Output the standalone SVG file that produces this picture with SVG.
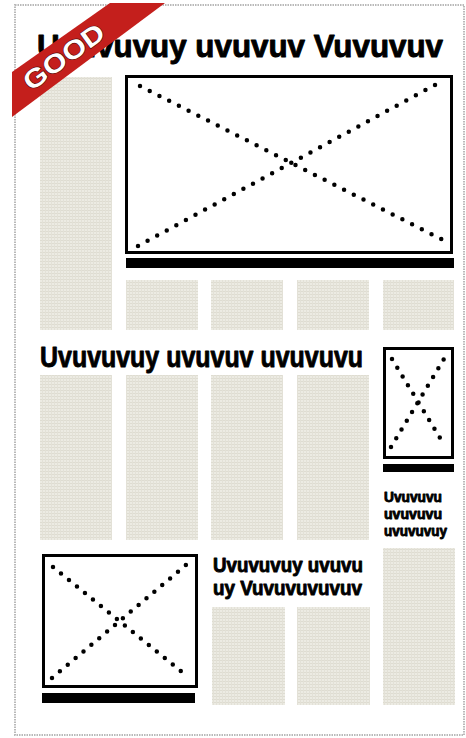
<svg xmlns="http://www.w3.org/2000/svg" width="466" height="738" viewBox="0 0 466 738">
<defs>
<style>
.blk{fill:url(#tex)}
.frame{fill:#fff;stroke:#000;stroke-width:3}
.bar{fill:#000}
.dots{fill:none;stroke:#000;stroke-width:4.5;stroke-linecap:round}
.hl{font-family:"Liberation Sans",Arial,sans-serif;font-weight:bold;fill:#000;stroke:#000;stroke-width:0.9;stroke-linejoin:round}
</style>
<pattern id="tex" width="3" height="3" patternUnits="userSpaceOnUse">
<rect width="3" height="3" fill="#ecebe3"/>
<rect width="3" height="1" fill="#dedcd1"/>
<rect width="1" height="3" fill="#e3e1d7"/>
</pattern>
</defs>
<rect width="466" height="738" fill="#fff"/>
<g id="page">
<rect x="15" y="5" width="449" height="730" fill="none" stroke="#b9b9b9" stroke-width="2" stroke-dasharray="1.5 1"/>
</g>
<g id="headline1">
<text class="hl" x="37" y="57" font-size="31" textLength="406" lengthAdjust="spacingAndGlyphs">Uvuvuvuy uvuvuv Vuvuvuv</text>
</g>
<g id="leftcol"><rect class="blk" x="40" y="77" width="72" height="253"/></g>
<g id="mainimage">
<rect class="frame" x="126.5" y="76.5" width="325" height="176"/>
<line class="dots" x1="140" y1="86" x2="445" y2="241" stroke-dasharray="0 10.9"/>
<line class="dots" x1="138" y1="246" x2="444" y2="80" stroke-dasharray="0 10.9"/>
<rect class="bar" x="126" y="258" width="328" height="10"/>
</g>
<g id="row1">
<rect class="blk" x="126" y="280" width="72" height="50"/>
<rect class="blk" x="211" y="280" width="72" height="50"/>
<rect class="blk" x="297" y="280" width="72" height="50"/>
<rect class="blk" x="383" y="280" width="71" height="50"/>
</g>
<g id="headline2">
<text class="hl" x="40" y="367" font-size="30" textLength="323" lengthAdjust="spacingAndGlyphs">Uvuvuvuy uvuvuv uvuvuvu</text>
</g>
<g id="midcols">
<rect class="blk" x="40" y="375" width="72" height="165"/>
<rect class="blk" x="126" y="375" width="72" height="165"/>
<rect class="blk" x="211" y="375" width="72" height="165"/>
<rect class="blk" x="297" y="375" width="72" height="165"/>
</g>
<g id="rightimage">
<rect class="frame" x="384.5" y="348.5" width="68" height="109"/>
<line class="dots" x1="392" y1="359" x2="445" y2="446" stroke-dasharray="0 10.2"/>
<line class="dots" x1="391" y1="447" x2="444" y2="359" stroke-dasharray="0 10.2"/>
<rect class="bar" x="383" y="464" width="71" height="8"/>
</g>
<g id="righttext">
<text class="hl" x="384" y="502" font-size="15" stroke-width="0.5" textLength="58" lengthAdjust="spacingAndGlyphs">Uvuvuvu</text>
<text class="hl" x="384" y="519" font-size="15" stroke-width="0.5" textLength="58" lengthAdjust="spacingAndGlyphs">uvuvuvu</text>
<text class="hl" x="384" y="536" font-size="15" stroke-width="0.5" textLength="63" lengthAdjust="spacingAndGlyphs">uvuvuvuy</text>
</g>
<g id="rightcol"><rect class="blk" x="383" y="548" width="72" height="157"/></g>
<g id="bottomimage">
<rect class="frame" x="43.5" y="555.5" width="153" height="131"/>
<line class="dots" x1="53" y1="567" x2="188" y2="677" stroke-dasharray="0 10.3"/>
<line class="dots" x1="52" y1="678" x2="186" y2="565" stroke-dasharray="0 10.3"/>
<rect class="bar" x="42" y="693" width="153" height="10"/>
</g>
<g id="headline3">
<text class="hl" x="213" y="572" font-size="21" stroke-width="0.7" textLength="150" lengthAdjust="spacingAndGlyphs">Uvuvuvuy uvuvu</text>
<text class="hl" x="213" y="595" font-size="21" stroke-width="0.7" textLength="149" lengthAdjust="spacingAndGlyphs">uy Vuvuvuvuvuv</text>
</g>
<g id="bottomcols">
<rect class="blk" x="212" y="607" width="73" height="98"/>
<rect class="blk" x="297" y="607" width="73" height="98"/>
</g>
<g id="good">
<polygon points="110,3 165,3 12,117 12,72" fill="#c41f1c"/>
<text x="0" y="0" transform="translate(69,64) rotate(-36)" text-anchor="middle" font-family="'Liberation Sans',Arial,sans-serif" font-weight="bold" font-size="26" fill="#fff" stroke="#5a0a08" stroke-width="1.2" paint-order="stroke" textLength="94" lengthAdjust="spacingAndGlyphs">GOOD</text>
</g>
</svg>
